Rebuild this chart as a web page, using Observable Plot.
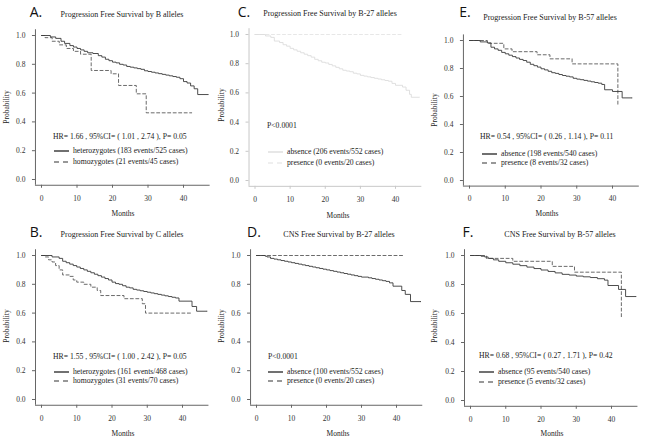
<!DOCTYPE html>
<html><head><meta charset="utf-8">
<script src="https://cdn.jsdelivr.net/npm/d3@7"></script>
<script src="https://cdn.jsdelivr.net/npm/@observablehq/plot@0.6"></script>
<style>
body{margin:0;background:#fff;}
#fig{position:relative;width:647px;height:442px;overflow:hidden;font-family:"Liberation Serif",serif;color:#222;background:#fff;}
#fig svg{position:absolute;}
.abs{position:absolute;white-space:nowrap;line-height:1;}
.letter{font-family:"Open Sans","Liberation Sans",sans-serif;font-size:14px;color:#111;transform:translate(-50%,-50%);}
.title{font-size:8px;transform:translate(-50%,-50%);}
.note{font-size:7.7px;transform:translateY(-50%);}
.ylab{font-size:7.5px;transform:translate(-50%,-50%) rotate(-90deg);}
.xlab{font-size:7.5px;transform:translate(-50%,-50%);}
</style></head><body><div id="fig"></div><script>
// ---- shared ticks ----
const xTicks = [0, 10, 20, 30, 40];
const yTicks = [0, 0.2, 0.4, 0.6, 0.8, 1.0];
const xDom = [-1.7, 47.5];
const yDom = [-0.04, 1.04];

// ---- panel texts ----
const letters = ["A.", "C.", "E.", "B.", "D.", "F."];
const titles = [
  "Progression Free Survival by B alleles",
  "Progression Free Survival by B-27 alleles",
  "Progression Free Survival by B-57 alleles",
  "Progression Free Survival by C alleles",
  "CNS Free Survival by B-27 alleles",
  "CNS Free Survival by B-57 alleles"
];
const notes = [
  "HR= 1.66 , 95%CI= ( 1.01 , 2.74 ), P= 0.05",
  "P<0.0001",
  "HR= 0.54 , 95%CI= ( 0.26 , 1.14 ), P= 0.11",
  "HR= 1.55 , 95%CI= ( 1.00 , 2.42 ), P= 0.05",
  "P<0.0001",
  "HR= 0.68 , 95%CI= ( 0.27 , 1.71 ), P= 0.42"
];
const solidLabels = [
  "heterozygotes (183 events/525 cases)",
  "absence (206 events/552 cases)",
  "absence (198 events/540 cases)",
  "heterozygotes (161 events/468 cases)",
  "absence (100 events/552 cases)",
  "absence (95 events/540 cases)"
];
const dashedLabels = [
  "homozygotes (21 events/45 cases)",
  "presence (0 events/20 cases)",
  "presence (8 events/32 cases)",
  "homozygotes (31 events/70 cases)",
  "presence (0 events/20 cases)",
  "presence (5 events/32 cases)"
];

// ---- series (months, survival probability) ----
const aSolidT = [0,2.5,4,5.5,6.5,8,9,10,11,12,13,14.5,16,17,18,19,20,21,22,23,24,25,26,27,28,29,30,31,32,33,34,35,36,37,38,39,40,41,42,43,44,47];
const aSolidS = [1,0.99,0.98,0.96,0.945,0.93,0.92,0.91,0.9,0.89,0.88,0.875,0.86,0.85,0.835,0.825,0.815,0.81,0.8,0.795,0.785,0.78,0.775,0.77,0.765,0.755,0.75,0.745,0.74,0.735,0.73,0.725,0.72,0.715,0.71,0.7,0.68,0.67,0.65,0.63,0.59,0.59];
const aDashT = [0,1,3,5,7,9,11,14,19.6,21.7,26.7,29.5,42.3];
const aDashS = [1,0.985,0.96,0.935,0.91,0.89,0.87,0.757,0.734,0.653,0.595,0.463,0.463];

const cSolidT = [0,3,4.5,5.5,7,8,9,10,11,12,13,14,15,16,17,18,19,20,21,22,23,24,25,26,27,28,29,30,31,32,33,34,35,36,37,38,39,40,42,43,44,44.5,46.8];
const cSolidS = [1,0.99,0.98,0.955,0.945,0.93,0.92,0.905,0.895,0.885,0.875,0.865,0.855,0.845,0.83,0.82,0.81,0.805,0.795,0.785,0.775,0.765,0.755,0.75,0.745,0.735,0.73,0.72,0.715,0.71,0.705,0.7,0.695,0.69,0.685,0.68,0.665,0.652,0.64,0.618,0.59,0.57,0.57];
const cDashT = [0,42];
const cDashS = [1,1];

const eSolidT = [0,3,5,6,7,8,9,10,11,12,13,14,15,16,17,18,19,20,21,22,23,24,25,26,27,28,29,30,31,32,33,34,35,36,37,37.8,40,42.7,45.5];
const eSolidS = [1,0.99,0.983,0.952,0.94,0.93,0.915,0.905,0.895,0.885,0.875,0.865,0.857,0.845,0.83,0.82,0.81,0.798,0.79,0.78,0.77,0.765,0.757,0.75,0.745,0.74,0.73,0.724,0.72,0.715,0.71,0.705,0.7,0.695,0.686,0.648,0.636,0.59,0.59];
const eDashT = [0,5,9.6,11.9,18.9,22.5,28.7,41.5];
const eDashS = [1,0.98,0.94,0.92,0.898,0.869,0.833,0.535];

const bSolidT = [0,3,5,6,7,8,9,10,11,12,13,14,15,16,17,18,19,20,21,22,23,24,25,26,27,28,29,30,31,32,33,34,35,36,37,38,39,42.7,44,47];
const bSolidS = [1,0.99,0.98,0.96,0.95,0.94,0.93,0.92,0.91,0.9,0.89,0.88,0.87,0.86,0.85,0.84,0.83,0.815,0.805,0.8,0.79,0.78,0.775,0.765,0.76,0.755,0.75,0.745,0.74,0.735,0.73,0.725,0.72,0.715,0.71,0.705,0.683,0.646,0.613,0.613];
const bDashT = [0,1,2,3,4,5,6,8,9,10,12,14,15.8,16.8,23.4,28.6,29.5,42.3];
const bDashS = [1,0.99,0.97,0.955,0.93,0.9,0.865,0.855,0.83,0.815,0.8,0.78,0.757,0.722,0.7,0.665,0.6,0.6];

const dSolidT = [0,2.5,3,4,5,6,7,8,9,10,11,12,13,14,15,16,17,18,19,20,21,22,23,24,25,26,27,28,29,30,32,33,34,35,36,37,38,39,41.5,42.5,44,47];
const dSolidS = [1,0.995,0.99,0.98,0.975,0.97,0.965,0.96,0.955,0.95,0.945,0.94,0.935,0.93,0.925,0.92,0.915,0.91,0.905,0.9,0.895,0.89,0.885,0.88,0.875,0.87,0.865,0.86,0.855,0.85,0.845,0.84,0.835,0.83,0.825,0.82,0.81,0.787,0.757,0.73,0.68,0.68];
const dDashT = [0,42];
const dDashS = [1,1];

const fSolidT = [0,3,4,5,6.5,8,10,12,14,16,18,20,22,24,26,28,30,32,34,36,38,39,42,44,47];
const fSolidS = [1,0.995,0.99,0.98,0.97,0.96,0.95,0.94,0.93,0.92,0.91,0.9,0.89,0.88,0.87,0.865,0.858,0.853,0.848,0.84,0.83,0.793,0.766,0.717,0.717];
const fDashT = [0,4.5,12,23.2,29.5,42.8];
const fDashS = [1,0.98,0.96,0.925,0.885,0.57];

const solidT = [aSolidT, cSolidT, eSolidT, bSolidT, dSolidT, fSolidT];
const solidS = [aSolidS, cSolidS, eSolidS, bSolidS, dSolidS, fSolidS];
const dashT = [aDashT, cDashT, eDashT, bDashT, dDashT, fDashT];
const dashS = [aDashS, cDashS, eDashS, bDashS, dDashS, fDashS];

// ---- layout (page pixels) ----
const layout = [
  {L:0,T:0,W:215,H:220,x0:41,x40:183,y1:35,y0:179, letter:[36,12], title:[122,15], note:[53,137], leg:[54,151,162], ylab:[7,107], xlab:[123,214], faint:false},
  {L:215,T:0,W:215,H:220,x0:254.5,x40:395,y1:34,y0:180, letter:[244,12], title:[330,14], note:[267,126], leg:[268,152,163], ylab:[222,105], xlab:[338,216], faint:true},
  {L:430,T:0,W:217,H:220,x0:469,x40:612,y1:40,y0:180, letter:[465,12], title:[550,18], note:[480,137], leg:[482,154,163], ylab:[435,110], xlab:[547,214], faint:false},
  {L:0,T:220,W:215,H:222,x0:41,x40:182,y1:255,y0:399, letter:[36,232], title:[122,235], note:[53,357], leg:[54,372,381], ylab:[7,326], xlab:[123,434], faint:false},
  {L:215,T:220,W:215,H:222,x0:256,x40:396,y1:255,y0:399, letter:[254,232], title:[339,235], note:[268,357], leg:[268,372,381], ylab:[222,326], xlab:[338,434], faint:false},
  {L:430,T:220,W:217,H:222,x0:470,x40:611,y1:255,y0:400, letter:[468,232], title:[560,235], note:[479,356], leg:[479,372,382], ylab:[435,326], xlab:[552,434], faint:false}
];

const fig = document.getElementById("fig");
function addText(cls, txt, x, y) {
  const d = document.createElement("div");
  d.className = "abs " + cls;
  d.textContent = txt;
  d.style.left = x + "px";
  d.style.top = y + "px";
  fig.appendChild(d);
}
function addSample(x, y, color, dash) {
  const ns = "http://www.w3.org/2000/svg";
  const s = document.createElementNS(ns, "svg");
  s.setAttribute("width", 15); s.setAttribute("height", 4);
  s.style.left = x + "px"; s.style.top = (y - 2) + "px";
  const l = document.createElementNS(ns, "line");
  l.setAttribute("x1", 0); l.setAttribute("x2", 15);
  l.setAttribute("y1", 2); l.setAttribute("y2", 2);
  l.setAttribute("stroke", color); l.setAttribute("stroke-width", 1.2);
  if (dash) l.setAttribute("stroke-dasharray", "5,4");
  s.appendChild(l);
  fig.appendChild(s);
}

layout.forEach((p, i) => {
  const k = (p.x40 - p.x0) / 40, s = p.y0 - p.y1;
  const frameL = p.x0 + xDom[0] * k - p.L;
  const frameR = p.x0 + xDom[1] * k - p.L;
  const frameT = p.y1 - (yDom[1] - 1) * s - p.T;
  const frameB = p.y0 - yDom[0] * s - p.T;
  const axisCol = p.faint ? "#c8c8c8" : "#666";
  const solidCol = p.faint ? "#dcdcdc" : "#3a3a3a";
  const dashCol = p.faint ? "#e4e4e4" : "#5a5a5a";
  const sampleSolid = p.faint ? "#d8d8d8" : "#111";
  const sampleDash = p.faint ? "#e0e0e0" : "#333";
  const solidData = solidT[i].map((t, j) => ({t, s: solidS[i][j]}));
  const dashData = dashT[i].map((t, j) => ({t, s: dashS[i][j]}));
  const chart = Plot.plot({
    width: p.W, height: p.H,
    marginLeft: frameL, marginRight: p.W - frameR,
    marginTop: frameT, marginBottom: p.H - frameB,
    x: {domain: xDom},
    y: {domain: yDom},
    style: {fontFamily: "Liberation Serif, serif", fontSize: "7.5px", background: "transparent", color: "#333", overflow: "visible"},
    marks: [
      Plot.axisY(yTicks, {tickSize: 3, tickPadding: 7, tickFormat: d => d.toFixed(1), label: null, stroke: axisCol, fill: "#333", fontSize: 7.5}),
      Plot.axisX(xTicks, {tickSize: 3, tickPadding: 7, label: null, stroke: axisCol, fill: "#333", fontSize: 7.5}),
      Plot.ruleX([xDom[0]], {stroke: axisCol}),
      Plot.ruleY([yDom[0]], {stroke: axisCol}),
      Plot.line(dashData, {x: "t", y: "s", curve: "step-after", stroke: dashCol, strokeWidth: 0.9, strokeDasharray: "3,2.5"}),
      Plot.line(solidData, {x: "t", y: "s", curve: "step-after", stroke: solidCol, strokeWidth: 0.9})
    ]
  });
  chart.style.left = p.L + "px";
  chart.style.top = p.T + "px";
  fig.appendChild(chart);

  addText("letter", letters[i], p.letter[0], p.letter[1]);
  addText("title", titles[i], p.title[0], p.title[1]);
  addText("note", notes[i], p.note[0], p.note[1]);
  addSample(p.leg[0], p.leg[1], sampleSolid, false);
  addSample(p.leg[0], p.leg[2], sampleDash, true);
  addText("note", solidLabels[i], p.leg[0] + 19, p.leg[1]);
  addText("note", dashedLabels[i], p.leg[0] + 19, p.leg[2]);
  addText("ylab", "Probability", p.ylab[0], p.ylab[1]);
  addText("xlab", "Months", p.xlab[0], p.xlab[1]);
});
</script></body></html>
